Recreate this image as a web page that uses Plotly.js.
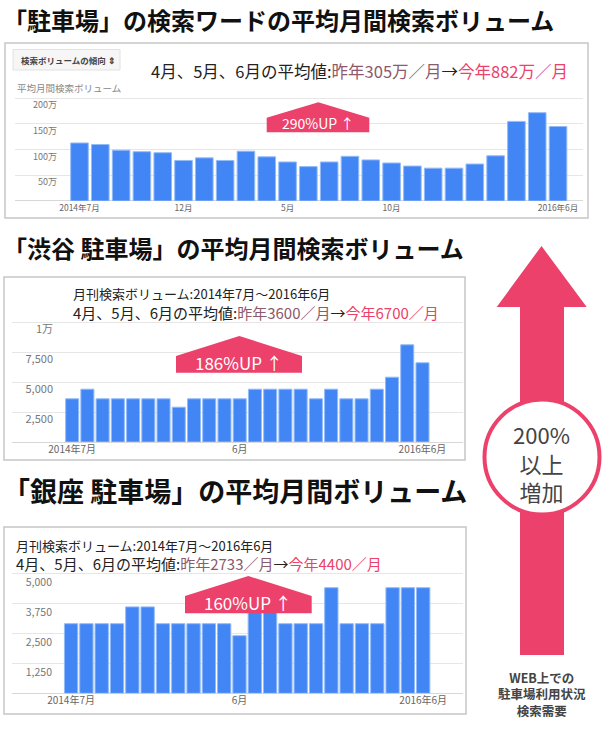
<!DOCTYPE html>
<html>
<head>
<meta charset="utf-8">
<script src="https://cdn.plot.ly/plotly-3.0.1.min.js"></script>
<style>
  html, body { margin: 0; padding: 0; background: #fff; }
  #chart { width: 605px; height: 731px; }
</style>
</head>
<body>
<div id="chart"></div>
<script>
// months on the x axis (2014年7月 .. 2016年6月)
const months = [
    '2014年7月', '2014年8月', '2014年9月', '2014年10月', '2014年11月', '2014年12月',
    '2015年1月', '2015年2月', '2015年3月', '2015年4月', '2015年5月', '2015年6月',
    '2015年7月', '2015年8月', '2015年9月', '2015年10月', '2015年11月', '2015年12月',
    '2016年1月', '2016年2月', '2016年3月', '2016年4月', '2016年5月', '2016年6月'
];

// 「駐車場」 monthly volume, in 万
const parkingVol = [113, 110, 99, 96, 94, 79, 84, 79, 97, 86, 76, 67,
                    76, 87, 80, 74, 68, 64, 64, 72, 88, 155, 172, 145];
// 「渋谷 駐車場」
const shibuyaVol = [3600, 4400, 3600, 3600, 3600, 3600, 3600, 2900, 3600, 3600, 3600, 3600,
                    4400, 4400, 4400, 4400, 3600, 4400, 3600, 3600, 4400, 5400, 8100, 6600];
// 「銀座 駐車場」
const ginzaVol = [2900, 2900, 2900, 2900, 3600, 3600, 2900, 2900, 2900, 2900, 2900, 2400,
                  3600, 3600, 2900, 2900, 2900, 4400, 2900, 2900, 2900, 4400, 4400, 4400];

const xTickVals1 = ['2014年7月', '2014年12月', '2015年5月', '2015年10月', '2016年6月'];
const xTickText1 = ['2014年7月', '12月', '5月', '10月', '2016年6月'];
const xTickVals23 = ['2014年7月', '2015年6月', '2016年6月'];
const xTickText23 = ['2014年7月', '6月', '2016年6月'];

const yTickVals1 = [50, 100, 150, 200];
const yTickText1 = ['50万', '100万', '150万', '200万'];
const yTickVals2 = [2500, 5000, 7500, 10000];
const yTickText2 = ['2,500', '5,000', '7,500', '1万'];
const yTickVals3 = [1250, 2500, 3750, 5000];
const yTickText3 = ['1,250', '2,500', '3,750', '5,000'];

const W = 605, H = 731;
const px = x => x / W;
const py = y => 1 - y / H;

const PINK = '#ec416b';
const MAUVE = '#8c5a6c';
const BLUE = '#4285f4';
const FONT = '"Noto Sans CJK JP", "Noto Sans", sans-serif';

function barTrace(vals, xa, ya, w) {
    return {
        type: 'bar', x: months, y: vals, xaxis: xa, yaxis: ya, width: w,
        marker: { color: BLUE, line: { color: '#93bbf7', width: 1 } },
        hoverinfo: 'skip', showlegend: false
    };
}

const data = [
    barTrace(parkingVol, 'x', 'y', 0.845),
    barTrace(shibuyaVol, 'x2', 'y2', 0.855),
    barTrace(ginzaVol, 'x3', 'y3', 0.87)
];

function xAxis(left, right, range, vals, text, size, anchor) {
    return {
        domain: [px(left), px(right)], anchor: anchor, type: 'category',
        range: range, tickmode: 'array', tickvals: vals, ticktext: text,
        showgrid: false, zeroline: false, showline: false, ticks: '',
        tickfont: { family: FONT, size: size, color: '#666' }, fixedrange: true
    };
}

function yAxis(bottom, top, range, vals, text, labelX, size, shift) {
    return {
        domain: [py(bottom), py(top)], range: range, anchor: 'free', position: px(labelX),
        tickmode: 'array', tickvals: vals, ticktext: text,
        showgrid: true, gridcolor: '#e6e6e6', gridwidth: 1,
        zeroline: true, zerolinecolor: '#d8d8d8', zerolinewidth: 1,
        showline: false, ticks: '', ticklabelshift: shift,
        tickfont: { family: FONT, size: size, color: '#777' }, fixedrange: true
    };
}

// pixel geometry of the three plots
// chart 1: 0 at y=201, 200万 at y=98.3
const k1 = (201 - 98.3) / 200;
const top1 = 201 - 212 * k1;
// chart 2: 0 at 442, 30px per 2500
const k2 = 30 / 2500;
const top2 = 442 - 10150 * k2;
// chart 3: 0 at 693.3, 30px per 1250
const k3 = 30 / 1250;
const top3 = 693.3 - 5120 * k3;

function banner(x0, x1, xp, yPeak, yShoulder, yBottom) {
    return {
        type: 'path', xref: 'paper', yref: 'paper', fillcolor: PINK, line: { width: 0 },
        path: `M${px(x0)},${py(yBottom)} L${px(x0)},${py(yShoulder)} L${px(xp)},${py(yPeak)} ` +
              `L${px(x1)},${py(yShoulder)} L${px(x1)},${py(yBottom)} Z`
    };
}

function card(x0, y0, x1, y1) {
    return {
        type: 'rect', xref: 'paper', yref: 'paper', layer: 'below',
        x0: px(x0), x1: px(x1), y0: py(y1), y1: py(y0),
        line: { color: '#c6c6c6', width: 1.5 }, fillcolor: 'rgba(0,0,0,0)'
    };
}

const shapes = [
    card(5, 43, 588, 218),
    card(4, 277, 465, 460),
    card(4, 527, 466, 714),
    // trend selector button
    {
        type: 'rect', xref: 'paper', yref: 'paper', layer: 'below',
        x0: px(13), x1: px(120), y0: py(70), y1: py(49.5),
        line: { color: '#e2e2e2', width: 1 }, fillcolor: '#f6f6f6'
    },
    banner(266.7, 369.3, 318.3, 102.3, 117.7, 132.3),
    banner(176, 302, 239.3, 336, 356, 372.7),
    banner(185, 311.7, 248.3, 576, 596, 613.3),
    // big arrow on the right
    {
        type: 'path', xref: 'paper', yref: 'paper', fillcolor: PINK, line: { width: 0 },
        path: `M${px(541.5)},${py(246)} L${px(586.7)},${py(307)} L${px(564)},${py(307)} ` +
              `L${px(564)},${py(655)} L${px(520)},${py(655)} L${px(520)},${py(307)} ` +
              `L${px(496.7)},${py(307)} Z`
    },
    {
        type: 'circle', xref: 'paper', yref: 'paper', fillcolor: '#fff',
        x0: px(484.5), x1: px(599.5), y0: py(514.5), y1: py(399.5),
        line: { color: PINK, width: 4 }
    }
];

function txt(x, y, text, size, color, opts) {
    return Object.assign({
        xref: 'paper', yref: 'paper', x: px(x), y: py(y), text: text, showarrow: false,
        xanchor: 'left', yanchor: 'middle',
        font: { family: FONT, size: size, color: color }
    }, opts || {});
}

const bold = s => '<b>' + s + '</b>';
const avgLine = (before, after) =>
    '4月、5月、6月の平均値:<span style="color:' + MAUVE + '">昨年' + before + '／月</span>→' +
    '<span style="color:' + PINK + '">今年' + after + '／月</span>';

const annotations = [
    txt(1, 20, bold('「駐車場」の検索ワードの平均月間検索ボリューム'), 24, '#111'),
    txt(1, 247, bold('「渋谷 駐車場」の平均月間検索ボリューム'), 24, '#111'),
    txt(1, 490, bold('「銀座 駐車場」の平均月間ボリューム'), 27, '#111'),

    txt(19, 60, bold('検索ボリュームの傾向 ⇕'), 8.5, '#444'),
    txt(15, 88, '平均月間検索ボリューム', 9.5, '#888'),

    txt(149, 70.5, avgLine('305万', '882万'), 16.5, '#222'),

    txt(71, 293, '月刊検索ボリューム:2014年7月〜2016年6月', 13, '#222'),
    txt(71, 312, avgLine('3600', '6700'), 15, '#222'),

    txt(14, 545.5, '月刊検索ボリューム:2014年7月〜2016年6月', 13, '#222'),
    txt(14, 563.5, avgLine('2733', '4400'), 15, '#222'),

    txt(318.3, 123, '290%UP ↑', 14, '#fff', { xanchor: 'center' }),
    txt(239.3, 362, '186%UP ↑', 17, '#fff', { xanchor: 'center' }),
    txt(248.3, 602, '160%UP ↑', 17, '#fff', { xanchor: 'center' }),

    txt(541.5, 462.5, '200%<br>以上<br>増加', 22, '#444', { xanchor: 'center' }),
    txt(541.5, 693.5, bold('WEB上での<br>駐車場利用状況<br>検索需要'), 12.5, '#444', { xanchor: 'center' })
];

const layout = {
    width: W, height: H,
    margin: { l: 0, r: 0, t: 0, b: 0, pad: 0 },
    paper_bgcolor: '#fff', plot_bgcolor: 'rgba(0,0,0,0)',
    font: { family: FONT },
    showlegend: false,
    xaxis: xAxis(15, 583, [-3.1, 24.2], xTickVals1, xTickText1, 8.5, 'y'),
    yaxis: yAxis(201, top1, [0, 212], yTickVals1, yTickText1, 57, 9, 7),
    xaxis2: xAxis(12, 463, [-3.95, 25.66], xTickVals23, xTickText23, 10, 'y2'),
    yaxis2: yAxis(442, top2, [0, 10150], yTickVals2, yTickText2, 53, 11, 7),
    xaxis3: xAxis(12, 463, [-3.86, 25.6], xTickVals23, xTickText23, 10, 'y3'),
    yaxis3: yAxis(693.3, top3, [0, 5120], yTickVals3, yTickText3, 52, 10.5, 9),
    shapes: shapes,
    annotations: annotations
};

Plotly.newPlot('chart', data, layout, { displayModeBar: false, staticPlot: true });
</script>
</body>
</html>
